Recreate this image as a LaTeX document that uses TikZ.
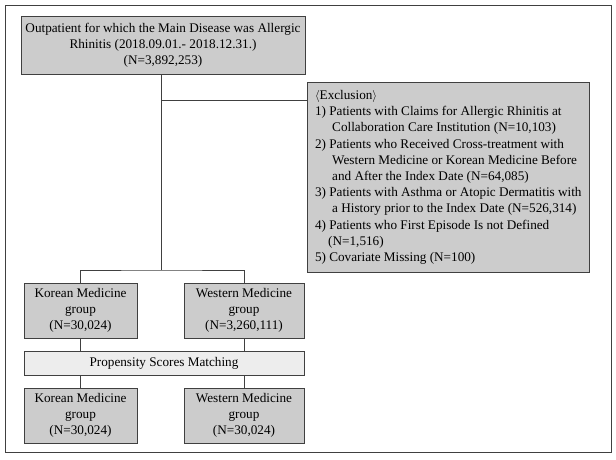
\documentclass[tikz,border=0pt]{standalone}
\usepackage{fontspec}
\setmainfont{Liberation Serif}
\usetikzlibrary{positioning,calc}
\tikzset{
  box/.style={draw=black!75,fill=black!20,line width=0.6pt,inner sep=0pt,align=center,font=\fontsize{13.2}{16.2}\selectfont},
  lightbox/.style={box,fill=black!7},
  link/.style={draw=black!75,line width=0.6pt}
}
\begin{document}
\begin{tikzpicture}[x=1pt,y=-1pt]
\useasboundingbox (0,0) rectangle (616,459);
\draw[black!75,line width=0.8pt] (5,5) rectangle (611,452);
\node[box,minimum width=284,minimum height=58] (start) at (163,45)
  {Outpatient for which the Main Disease was Allergic\\ Rhinitis (2018.09.01.- 2018.12.31.)\\ (N=3,892,253)};
\node[box,minimum width=282,minimum height=190,anchor=north west,align=left,inner xsep=3pt] (excl) at (307,82)
  {$\langle$Exclusion$\rangle$\\
   1) Patients with Claims for Allergic Rhinitis at\\
   \hspace*{1.3em}Collaboration Care Institution (N=10,103)\\
   2) Patients who Received Cross-treatment with\\
   \hspace*{1.3em}Western Medicine or Korean Medicine Before\\
   \hspace*{1.3em}and After the Index Date (N=64,085)\\
   3) Patients with Asthma or Atopic Dermatitis with\\
   \hspace*{1.3em}a History prior to the Index Date (N=526,314)\\
   4) Patients who First Episode Is not Defined\\
   \hspace*{1em}(N=1,516)\\
   5) Covariate Missing (N=100)};
\node[box,minimum width=113,minimum height=55] (km1) at (80.5,310.5) {Korean Medicine\\ group\\ (N=30,024)};
\node[box,minimum width=120,minimum height=55] (wm1) at (244,310.5) {Western Medicine\\ group\\ (N=3,260,111)};
\node[lightbox,minimum width=280,minimum height=24] (psm) at (164,363) {Propensity Scores Matching};
\node[box,minimum width=113,minimum height=55] (km2) at (80.5,415.5) {Korean Medicine\\ group\\ (N=30,024)};
\node[box,minimum width=120,minimum height=55] (wm2) at (244,415.5) {Western Medicine\\ group\\ (N=30,024)};
\coordinate (split) at (161,270);
\coordinate (branch) at (161,100);
\draw[link] (start.south -| split) -- (split);
\draw[link] (branch) -- (branch -| excl.west);
\draw[link] (km1.north) |- (split) -| (wm1.north);
\draw[link] (km1) -- (km1 |- psm.north);
\draw[link] (wm1) -- (wm1 |- psm.north);
\draw[link] (km2 |- psm.south) -- (km2);
\draw[link] (wm2 |- psm.south) -- (wm2);
\end{tikzpicture}
\end{document}
